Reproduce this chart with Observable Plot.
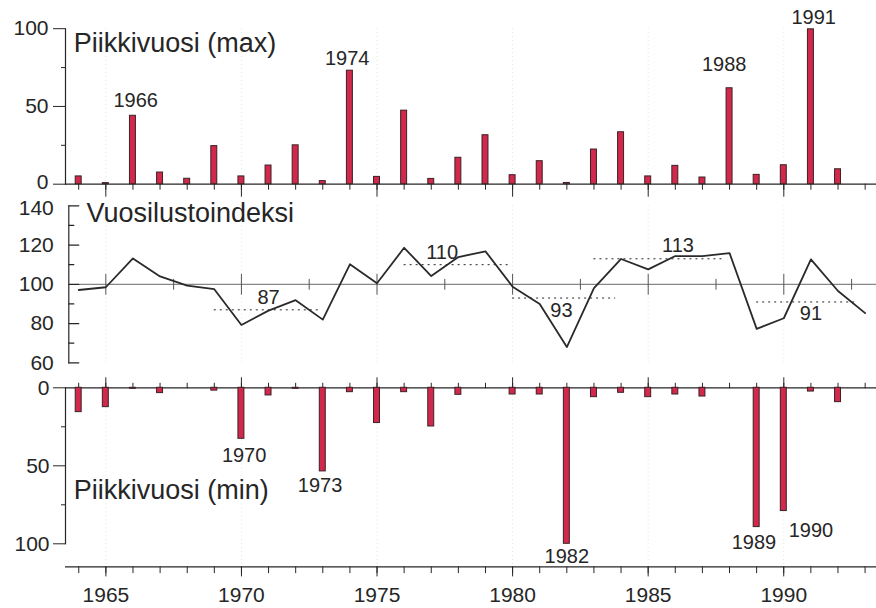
<!DOCTYPE html>
<html>
<head>
<meta charset="utf-8">
<script src="https://cdn.jsdelivr.net/npm/d3@7"></script>
<script src="https://cdn.jsdelivr.net/npm/@observablehq/plot@0.6"></script>
<style>
html,body{margin:0;padding:0;background:#fff;}
#chart{position:relative;width:876px;height:608px;overflow:hidden;font-family:"Liberation Sans",Arial,sans-serif;}
#chart svg{position:absolute;left:0;overflow:visible;background:transparent;}
</style>
</head>
<body>
<div id="chart"></div>
<script>
// ---------- data ----------
const years = [1964,1965,1966,1967,1968,1969,1970,1971,1972,1973,1974,1975,1976,1977,1978,1979,1980,1981,1982,1983,1984,1985,1986,1987,1988,1989,1990,1991,1992,1993];
const maxValues = [5,0.7,44,7.5,3.5,24.5,5,12,25,2,73,4.7,47.3,3.4,17,31.5,5.8,14.8,0.8,22.3,33.4,5,11.8,4.3,61.7,6,12.2,99.6,9.6,0];
const indexValues = [97.1,98.5,113.2,104,99.3,97.5,79.3,86.6,91.9,82,110.2,100.5,118.6,104.2,113.9,116.8,98.8,90,68,98,112.9,107.6,114.4,114.4,115.9,77.3,82.7,112.7,96.6,85.3];
const minValues = [15.6,12.4,0.6,3.4,0,1.8,32.7,4.9,0.6,53.6,2.8,22.6,2.8,24.8,4.5,0,4.3,4.3,100,6,3.2,6,4.3,5.6,0,89.3,79,2.4,9.2,0];

const majorYears = [1965,1970,1975,1980,1985,1990];
const halfYears = [1967.5,1972.5,1977.5,1982.5,1987.5,1992.5];
const refLevel = 100;

const periodStart = [1969,1976,1980,1983,1989];
const periodEnd = [1972.9,1979.85,1983.8,1987.85,1992.75];
const periodMean = [87,110,93,113,91];
const periodLabelYear = [1971,1977.4,1981.8,1986.1,1991];
const periodLabelValue = [93,116.3,86.6,119.6,84.9];

const maxLabelText = ["1966","1974","1988","1991"];
const maxLabelYear = [1966.1,1973.9,1987.8,1991.1];
const maxLabelValue = [53.8,80.8,77,107.2];
const minLabelText = ["1970","1973","1982","1989","1990"];
const minLabelYear = [1970.1,1972.9,1982,1988.9,1991];
const minLabelValue = [43.4,62.6,108,99,91.5];

const titleMax = "Piikkivuosi (max)";
const titleIndex = "Vuosilustoindeksi";
const titleMin = "Piikkivuosi (min)";

// ---------- tables ----------
const maxData = years.map((year,i)=>({year, value:maxValues[i]})).filter(d=>d.value>0);
const minData = years.map((year,i)=>({year, value:minValues[i]})).filter(d=>d.value>0);
const indexData = years.map((year,i)=>({year, value:indexValues[i]}));
const periods = periodStart.map((s,i)=>({start:s, end:periodEnd[i], mean:periodMean[i], ly:periodLabelYear[i], lv:periodLabelValue[i]}));
const maxLabels = maxLabelText.map((t,i)=>({t, year:maxLabelYear[i], value:maxLabelValue[i]}));
const minLabels = minLabelText.map((t,i)=>({t, year:minLabelYear[i], value:minLabelValue[i]}));

// ---------- style ----------
const ink = "#262626";
const barFill = "#d2284b";
const barStroke = "#3a2226";
const gridColor = "#d3efd3";
const font = '"Liberation Sans", Arial, sans-serif';
const W = 876;
const tickFont = 21;
const xScale = {domain:[1964,1990], range:[78.2,783.3], label:null};
const barHalf = 0.11;
const baseStyle = {fontFamily:font, color:ink, background:"transparent", overflow:"visible"};
const grid = {stroke:gridColor, strokeDasharray:"1,3", strokeWidth:1};
const hTick = {draw(ctx, l){ ctx.moveTo(0,0); ctx.lineTo(l,0); }};
const vTick = {draw(ctx, l){ ctx.moveTo(0,-l/2); ctx.lineTo(0,l/2); }};

const chart = document.getElementById("chart");
function place(svg, top){ svg.style.top = top + "px"; chart.appendChild(svg); }

// ---------- top panel ----------
place(Plot.plot({
  width:W, height:200, marginLeft:65, marginRight:0, marginTop:28.2, marginBottom:16.3,
  x:{...xScale}, y:{domain:[0,100], range:[183.7,28.2], label:null},
  style:baseStyle,
  marks:[
    Plot.ruleX(majorYears, grid),
    Plot.ruleY([0], {stroke:ink, strokeWidth:1.2}),
    Plot.frame({anchor:"left", stroke:ink, strokeWidth:1.2}),
    Plot.axisY([0,50,100], {tickSize:12, tickFormat:()=>"", stroke:ink, label:null}),
    Plot.axisY([50,100], {tickSize:0, tickPadding:17, fontSize:tickFont, fill:ink, label:null}),
    Plot.axisY([0], {tickSize:0, tickPadding:17, fontSize:tickFont, fill:ink, label:null, dy:-2}),
    Plot.axisY([25,75], {tickSize:4, tickFormat:()=>"", stroke:ink, label:null}),
    Plot.axisX(years, {tickSize:6, tickFormat:()=>"", stroke:ink, label:null}),
    Plot.axisX(majorYears, {tickSize:13, tickFormat:()=>"", stroke:ink, label:null}),
    Plot.rectY(maxData, {x1:d=>d.year-barHalf, x2:d=>d.year+barHalf, y:"value", fill:barFill, stroke:barStroke, strokeWidth:1}),
    Plot.text(maxLabels, {x:"year", y:"value", text:"t", fontSize:20, fill:ink}),
    Plot.text([titleMax], {text:d=>d, frameAnchor:"top-left", textAnchor:"start", lineAnchor:"middle", dx:8.3, dy:14.8, fontSize:27, fill:ink})
  ]
}), 0);

// ---------- middle panel ----------
place(Plot.plot({
  width:W, height:190, marginLeft:68.3, marginRight:0, marginTop:15.3, marginBottom:17.7,
  x:{...xScale, axis:null}, y:{domain:[60,140], range:[172.3,15.3], label:null},
  style:baseStyle,
  marks:[
    Plot.ruleX(majorYears, grid),
    Plot.ruleY([refLevel], {stroke:"#6a6a6a", strokeWidth:1, insetLeft:10}),
    Plot.vector(majorYears, {x:d=>d, y:()=>refLevel, length:20, shape:vTick, anchor:"start", stroke:"#555", strokeWidth:1}),
    Plot.vector(halfYears, {x:d=>d, y:()=>refLevel, length:10, shape:vTick, anchor:"start", stroke:"#555", strokeWidth:1}),
    Plot.frame({anchor:"left", stroke:ink, strokeWidth:1.2}),
    Plot.vector([60,80,100,120,140], {y:d=>d, frameAnchor:"left", length:10, shape:hTick, anchor:"start", stroke:ink, strokeWidth:1.2}),
    Plot.vector([70,90,110,130], {y:d=>d, frameAnchor:"left", length:5, shape:hTick, anchor:"start", stroke:ink, strokeWidth:1.2}),
    Plot.axisY([60,80,100,120], {tickSize:0, tickPadding:15, fontSize:tickFont, fill:ink, label:null}),
    Plot.axisY([140], {tickSize:0, tickPadding:15, fontSize:tickFont, fill:ink, label:null, dy:2}),
    Plot.ruleY(periods, {y:"mean", x1:"start", x2:"end", stroke:ink, strokeDasharray:"2,4", strokeWidth:1}),
    Plot.line(indexData, {x:"year", y:"value", stroke:"#2a2a2a", strokeWidth:1.8}),
    Plot.text(periods, {x:"ly", y:"lv", text:d=>String(d.mean), fontSize:20, fill:ink}),
    Plot.text([titleIndex], {text:d=>d, frameAnchor:"top-left", textAnchor:"start", lineAnchor:"middle", dx:17.7, dy:7.7, fontSize:27, fill:ink})
  ]
}), 190);

// ---------- bottom panel ----------
place(Plot.plot({
  width:W, height:200, marginLeft:65, marginRight:0, marginTop:17.3, marginBottom:26.7,
  x:{...xScale}, y:{domain:[0,100], range:[17.3,173.3], label:null},
  style:baseStyle,
  marks:[
    Plot.ruleX(majorYears, grid),
    Plot.ruleY([0], {stroke:ink, strokeWidth:1.2}),
    Plot.frame({anchor:"left", stroke:ink, strokeWidth:1.2}),
    Plot.axisY([0,50,100], {tickSize:12, tickPadding:4, fontSize:tickFont, stroke:ink, fill:ink, label:null}),
    Plot.axisY([25,75], {tickSize:4, tickFormat:()=>"", stroke:ink, label:null}),
    Plot.axisX(years, {anchor:"top", tickSize:5.5, tickFormat:()=>"", stroke:ink, label:null}),
    Plot.axisX(majorYears, {anchor:"top", tickSize:11, tickFormat:()=>"", stroke:ink, label:null}),
    Plot.rectY(minData, {x1:d=>d.year-barHalf, x2:d=>d.year+barHalf, y:"value", fill:barFill, stroke:barStroke, strokeWidth:1}),
    Plot.text(minLabels, {x:"year", y:"value", text:"t", fontSize:20, fill:ink}),
    Plot.text([titleMin], {text:d=>d, frameAnchor:"top-left", textAnchor:"start", lineAnchor:"middle", dx:8.3, dy:102.7, fontSize:27, fill:ink})
  ]
}), 370);

// ---------- bottom year axis ----------
place(Plot.plot({
  width:W, height:64.7, marginLeft:65, marginRight:0, marginTop:0, marginBottom:41.3,
  x:{...xScale},
  style:baseStyle,
  marks:[
    Plot.ruleX(majorYears, grid),
    Plot.frame({anchor:"bottom", stroke:ink, strokeWidth:1.2}),
    Plot.axisX(years, {tickSize:6.7, tickFormat:()=>"", stroke:ink, label:null}),
    Plot.axisX(majorYears, {tickSize:10, tickPadding:10, fontSize:tickFont, stroke:ink, fill:ink, tickFormat:d=>String(d), label:null})
  ]
}), 543.3);
</script>
</body>
</html>
